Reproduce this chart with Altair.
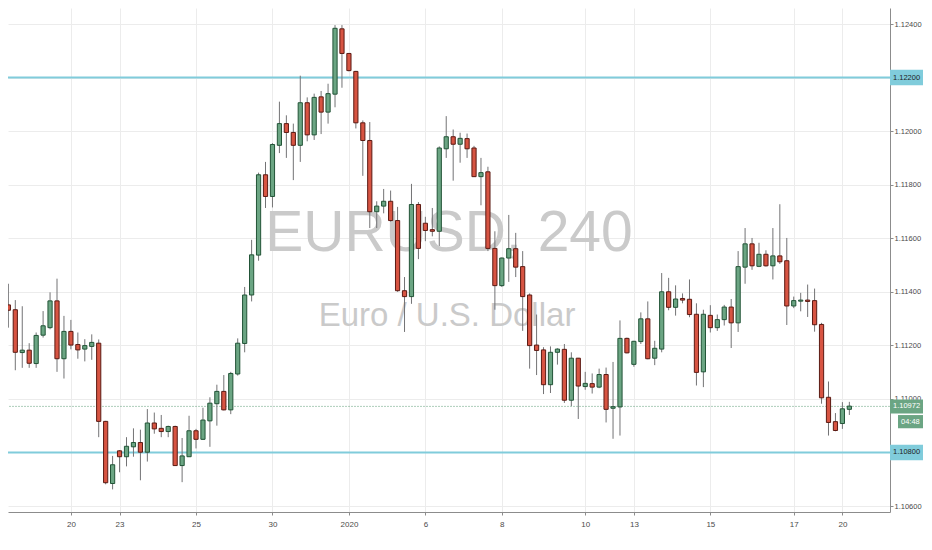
import json
import altair as alt
import pandas as pd

# ---- candle data (EURUSD, 4h) ----
opens = [1.11351, 1.11333, 1.11173, 1.11182, 1.11132, 1.11238, 1.11266, 1.11366, 1.11150, 1.11252,
         1.11203, 1.11186, 1.11196, 1.11208, 1.10916, 1.10684, 1.10806, 1.10784, 1.10821, 1.10837,
         1.10801, 1.10910, 1.10890, 1.10878, 1.10897, 1.10751, 1.10784, 1.10881, 1.10849, 1.10918,
         1.10982, 1.11028, 1.10959, 1.11093, 1.11207, 1.11388, 1.11537, 1.11837, 1.11756, 1.11947,
         1.12028, 1.11995, 1.11947, 1.12106, 1.11986, 1.12128, 1.12071, 1.12138, 1.12382, 1.12290,
         1.12223, 1.12031, 1.11965, 1.11699, 1.11720, 1.11738, 1.11666, 1.11404, 1.11382, 1.11726,
         1.11656, 1.11632, 1.11626, 1.11934, 1.11979, 1.11951, 1.11972, 1.11937, 1.11830, 1.11848,
         1.11562, 1.11423, 1.11526, 1.11561, 1.11494, 1.11388, 1.11201, 1.11183, 1.11053, 1.11174,
         1.11185, 1.10995, 1.11152, 1.11046, 1.11057, 1.11044, 1.11091, 1.10965, 1.10970, 1.11226,
         1.11129, 1.11214, 1.11299, 1.11152, 1.11186, 1.11400, 1.11342, 1.11375, 1.11372, 1.11316,
         1.11101, 1.11312, 1.11266, 1.11296, 1.11343, 1.11284, 1.11492, 1.11579, 1.11495, 1.11540,
         1.11497, 1.11534, 1.11516, 1.11347, 1.11365, 1.11369, 1.11367, 1.11278, 1.11006, 1.10915,
         1.10908, 1.10961]
highs = [1.11430, 1.11369, 1.11346, 1.11208, 1.11248, 1.11328, 1.11398, 1.11449, 1.11310, 1.11295,
         1.11248, 1.11223, 1.11241, 1.11222, 1.10918, 1.10787, 1.10809, 1.10857, 1.10890, 1.10885,
         1.10962, 1.10949, 1.10940, 1.10900, 1.10900, 1.10854, 1.10937, 1.10888, 1.10967, 1.11006,
         1.11053, 1.11089, 1.11101, 1.11226, 1.11418, 1.11594, 1.11845, 1.11885, 1.11955, 1.12110,
         1.12059, 1.12028, 1.12207, 1.12126, 1.12140, 1.12150, 1.12177, 1.12396, 1.12396, 1.12292,
         1.12225, 1.12040, 1.12034, 1.11738, 1.11784, 1.11778, 1.11717, 1.11455, 1.11803, 1.11735,
         1.11680, 1.11713, 1.11943, 1.12056, 1.12006, 1.11994, 1.11991, 1.11945, 1.11900, 1.11867,
         1.11626, 1.11528, 1.11687, 1.11620, 1.11552, 1.11394, 1.11315, 1.11193, 1.11196, 1.11189,
         1.11205, 1.11174, 1.11153, 1.11101, 1.11095, 1.11113, 1.11117, 1.11138, 1.11293, 1.11229,
         1.11217, 1.11323, 1.11364, 1.11217, 1.11470, 1.11452, 1.11424, 1.11394, 1.11446, 1.11357,
         1.11333, 1.11350, 1.11315, 1.11351, 1.11373, 1.11552, 1.11638, 1.11601, 1.11583, 1.11555,
         1.11638, 1.11727, 1.11601, 1.11382, 1.11396, 1.11427, 1.11412, 1.11284, 1.11065, 1.10947,
         1.10988, 1.10989]
lows = [1.11266, 1.11107, 1.11116, 1.11116, 1.11116, 1.11229, 1.11260, 1.11101, 1.11076, 1.11185,
        1.11150, 1.11140, 1.11146, 1.10857, 1.10681, 1.10662, 1.10726, 1.10748, 1.10784, 1.10696,
        1.10766, 1.10870, 1.10857, 1.10857, 1.10750, 1.10689, 1.10783, 1.10815, 1.10847, 1.10821,
        1.10900, 1.10957, 1.10943, 1.11087, 1.11174, 1.11364, 1.11516, 1.11713, 1.11715, 1.11918,
        1.11900, 1.11817, 1.11885, 1.11962, 1.11967, 1.11989, 1.12028, 1.12089, 1.12162, 1.12223,
        1.12010, 1.11833, 1.11638, 1.11638, 1.11693, 1.11662, 1.11400, 1.11250, 1.11355, 1.11522,
        1.11589, 1.11607, 1.11571, 1.11900, 1.11815, 1.11882, 1.11900, 1.11829, 1.11723, 1.11552,
        1.11333, 1.11418, 1.11437, 1.11455, 1.11254, 1.11113, 1.11089, 1.11018, 1.11022, 1.11128,
        1.10985, 1.10973, 1.10925, 1.11034, 1.11020, 1.11040, 1.10912, 1.10851, 1.10863, 1.11170,
        1.11120, 1.11205, 1.11148, 1.11126, 1.11174, 1.11331, 1.11311, 1.11357, 1.11305, 1.11050,
        1.11044, 1.11248, 1.11254, 1.11274, 1.11190, 1.11250, 1.11430, 1.11482, 1.11492, 1.11494,
        1.11446, 1.11504, 1.11276, 1.11339, 1.11327, 1.11306, 1.11251, 1.10982, 1.10863, 1.10879,
        1.10888, 1.10940]
closes = [1.11331, 1.11174, 1.11182, 1.11133, 1.11237, 1.11273, 1.11366, 1.11150, 1.11252, 1.11201,
          1.11183, 1.11199, 1.11211, 1.10916, 1.10687, 1.10754, 1.10784, 1.10823, 1.10837, 1.10801,
          1.10910, 1.10888, 1.10878, 1.10897, 1.10751, 1.10787, 1.10881, 1.10849, 1.10921, 1.10984,
          1.11028, 1.10959, 1.11095, 1.11208, 1.11388, 1.11538, 1.11837, 1.11756, 1.11950, 1.12028,
          1.11995, 1.11947, 1.12106, 1.11986, 1.12126, 1.12071, 1.12140, 1.12384, 1.12290, 1.12226,
          1.12031, 1.11965, 1.11699, 1.11720, 1.11738, 1.11666, 1.11404, 1.11382, 1.11726, 1.11562,
          1.11629, 1.11626, 1.11937, 1.11979, 1.11951, 1.11973, 1.11934, 1.11830, 1.11845, 1.11562,
          1.11423, 1.11526, 1.11561, 1.11492, 1.11382, 1.11199, 1.11181, 1.11053, 1.11174, 1.11186,
          1.10995, 1.11152, 1.11048, 1.11058, 1.11044, 1.11091, 1.10961, 1.10971, 1.11226, 1.11172,
          1.11215, 1.11299, 1.11150, 1.11189, 1.11400, 1.11342, 1.11373, 1.11369, 1.11315, 1.11099,
          1.11316, 1.11266, 1.11296, 1.11343, 1.11284, 1.11494, 1.11579, 1.11497, 1.11540, 1.11497,
          1.11534, 1.11512, 1.11347, 1.11367, 1.11369, 1.11364, 1.11277, 1.11004, 1.10912, 1.10882,
          1.10963, 1.10973]

# ---- axis ticks ----
date_tick_pos = [9, 16, 27, 38, 49, 60, 71, 83, 90, 101, 113, 120]
date_tick_labels = ["20", "23", "25", "30", "2020", "6", "8", "10", "13", "15", "17", "20"]
price_ticks = [1.106, 1.107, 1.108, 1.109, 1.110, 1.111, 1.112, 1.113, 1.114, 1.115,
               1.116, 1.117, 1.118, 1.119, 1.120, 1.121, 1.122, 1.123, 1.124]

# ---- horizontal levels & labels ----
level_prices = [1.122, 1.108]
level_labels = ["1.12200", "1.10800"]
last_price = [1.10972]
last_label = ["1.10972"]
timer_price = [1.10915]
timer_label = ["04:48"]

title_main = "EURUSD, 240"
title_sub = "Euro / U.S. Dollar"

FONT = "Liberation Sans, Arial, sans-serif"
UP, DOWN = "#6ba583", "#d75442"
UP_BORDER, DOWN_BORDER = "#225437", "#5b1a13"
LEVEL = "#80ccdb"
GRID = "#ececec"
AXIS = "#8c8c8c"

df = pd.DataFrame({"open": opens, "high": highs, "low": lows, "close": closes})
df["i"] = range(len(df))
df["dir"] = ["up" if c >= o else "down" for o, c in zip(df["open"], df["close"])]
df["btop"] = df[["open", "close"]].max(axis=1)
df["bbot"] = df[["open", "close"]].min(axis=1)

BOX_HALF = 0.00029
levels_df = pd.DataFrame({"price": level_prices, "label": level_labels})
levels_df["top"] = levels_df["price"] + BOX_HALF
levels_df["bot"] = levels_df["price"] - BOX_HALF
last_df = pd.DataFrame({"price": last_price, "label": last_label})
last_df["top"] = last_df["price"] + BOX_HALF * 0.9
last_df["bot"] = last_df["price"] - BOX_HALF * 0.9
timer_df = pd.DataFrame({"price": timer_price, "label": timer_label})
timer_df["top"] = timer_df["price"] + BOX_HALF * 0.85
timer_df["bot"] = timer_df["price"] - BOX_HALF * 0.85

label_expr = "{}[indexof({}, datum.value)]".format(json.dumps(date_tick_labels), json.dumps(date_tick_pos))

x_scale = alt.Scale(domain=[0.669, 126.13], nice=False, zero=False)
y_scale = alt.Scale(domain=[1.105776, 1.124598], nice=False, zero=False)

x_axis = alt.Axis(values=date_tick_pos, labelExpr=label_expr, grid=True, gridColor=GRID,
                  domainColor=AXIS, tickColor=AXIS, tickSize=3, labelPadding=5,
                  labelFont=FONT, labelFontSize=8, labelColor="#4a4a4a",
                  labelFontWeight={"expr": "datum.label == '2020' ? 'bold' : 'normal'"},
                  title=None, labelFlush=False)
y_axis = alt.Axis(orient="right", values=price_ticks, format=".5f", grid=True, gridColor=GRID,
                  domainColor=AXIS, tickColor=AXIS, tickSize=3, labelPadding=1,
                  labelFont=FONT, labelFontSize=7.5, labelColor="#4a4a4a", title=None,
                  labelFlush=False)

X = alt.X("i:Q", scale=x_scale, axis=x_axis)

watermark = alt.Chart(alt.Data(values=[{"t": title_main}])).mark_text(
    font=FONT, fontSize=57, color="#cacaca", align="center", baseline="alphabetic"
).encode(text="t:N", x=alt.value(441), y=alt.value(243))
watermark2 = alt.Chart(alt.Data(values=[{"t": title_sub}])).mark_text(
    font=FONT, fontSize=33, color="#cacaca", align="center", baseline="alphabetic"
).encode(text="t:N", x=alt.value(439), y=alt.value(318))

level_rules = alt.Chart(levels_df).mark_rule(color=LEVEL, strokeWidth=2).encode(
    y=alt.Y("price:Q", scale=y_scale, axis=y_axis))
last_rule = alt.Chart(last_df).mark_rule(color=UP, strokeWidth=1, opacity=0.55, strokeDash=[2, 1]).encode(
    y=alt.Y("price:Q", scale=y_scale))

wicks = alt.Chart(df).mark_rule(color="#737375", strokeWidth=1).encode(
    x=X, y=alt.Y("high:Q", scale=y_scale), y2="low:Q")
bodies = alt.Chart(df).mark_bar(size=4.2, strokeWidth=1).encode(
    x=X, y=alt.Y("btop:Q", scale=y_scale), y2="bbot:Q",
    color=alt.Color("dir:N", scale=alt.Scale(domain=["up", "down"], range=[UP, DOWN]), legend=None),
    stroke=alt.Stroke("dir:N", scale=alt.Scale(domain=["up", "down"], range=[UP_BORDER, DOWN_BORDER]), legend=None))

level_boxes = alt.Chart(levels_df).mark_rect(color=LEVEL).encode(
    x=alt.value(882), x2=alt.value(915), y=alt.Y("top:Q", scale=y_scale), y2="bot:Q")
level_text = alt.Chart(levels_df).mark_text(font=FONT, fontSize=7.5, color="#1e1e1e", align="left",
                                             baseline="middle").encode(
    x=alt.value(885), y=alt.Y("price:Q", scale=y_scale), text="label:N")
last_box = alt.Chart(last_df).mark_rect(color=UP).encode(
    x=alt.value(882), x2=alt.value(915), y=alt.Y("top:Q", scale=y_scale), y2="bot:Q")
last_text = alt.Chart(last_df).mark_text(font=FONT, fontSize=7.5, color="white", align="left",
                                          baseline="middle").encode(
    x=alt.value(885), y=alt.Y("price:Q", scale=y_scale), text="label:N")
timer_box = alt.Chart(timer_df).mark_rect(color=UP).encode(
    x=alt.value(890), x2=alt.value(915), y=alt.Y("top:Q", scale=y_scale), y2="bot:Q")
timer_text = alt.Chart(timer_df).mark_text(font=FONT, fontSize=7.5, color="white", align="left",
                                            baseline="middle").encode(
    x=alt.value(893), y=alt.Y("price:Q", scale=y_scale), text="label:N")

chart = alt.layer(
    watermark, watermark2, level_rules, last_rule, wicks, bodies,
    level_boxes, level_text, last_box, last_text, timer_box, timer_text
).properties(
    width=882, height=504,
    padding={"left": 0, "top": 0, "right": 33, "bottom": 18},
    autosize=alt.AutoSizeParams(type="none"),
    background="white",
).configure_view(strokeWidth=0)

chart.save("out.html", embed_options={"renderer": "svg", "actions": False})
